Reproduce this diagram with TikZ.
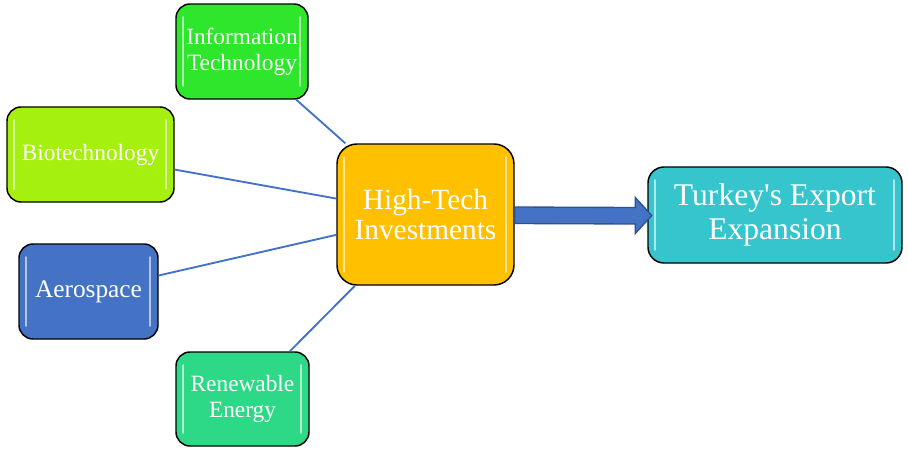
\documentclass[tikz,border=0pt]{standalone}
\usepackage{fontspec}
\setmainfont{Liberation Serif}[Ligatures=TeXOff]
\usetikzlibrary{calc}
\definecolor{cIT}{HTML}{2EE62C}
\definecolor{cBio}{HTML}{A6F010}
\definecolor{cAero}{HTML}{4472C4}
\definecolor{cRen}{HTML}{2DD987}
\definecolor{cHT}{HTML}{FFC000}
\definecolor{cTK}{HTML}{36C5CC}
\definecolor{lnk}{HTML}{4472C4}
\definecolor{arrowEdge}{HTML}{2F528F}
\tikzset{
  box/.style={draw=black, line width=1.1pt, text=white, align=center, inner sep=0pt},
  smallbox/.style={box, rounded corners=10.5pt, font=\fontsize{17.5}{19.5}\selectfont},
  link/.style={draw=lnk, line width=1.4pt},
  hl/.style={white, opacity=0.6, line width=1.8pt, line cap=round},
  bigarrow/.style={fill=cAero, draw=arrowEdge, line width=1pt, line join=miter}
}
\begin{document}
\begin{tikzpicture}[x=0.75pt,y=-0.75pt]
\useasboundingbox (0,0) rectangle (908,454);
\node[smallbox, fill=cIT, minimum width=99pt, minimum height=71.25pt] (it) at (242,51.5) {Information\\Technology};
\node[smallbox, fill=cBio, minimum width=125.25pt, minimum height=71.25pt] (bio) at (90.5,154.5) {Biotechnology};
\node[smallbox, fill=cAero, minimum width=104.25pt, minimum height=71.25pt, font=\fontsize{19}{21}\selectfont] (aero) at (88.5,291.5) {Aerospace};
\node[smallbox, fill=cRen, minimum width=99.75pt, minimum height=70.5pt] (ren) at (242.5,399) {Renewable\\Energy};
\node[box, fill=cHT, rounded corners=15pt, minimum width=132.75pt, minimum height=105.75pt, font=\fontsize{22}{22.5}\selectfont] (ht) at (425.5,214.5) {High-Tech\\Investments};
\node[box, fill=cTK, rounded corners=12pt, minimum width=190.5pt, minimum height=72pt, font=\fontsize{23.7}{25.5}\selectfont] (tk) at (775,215) {Turkey's Export\\Expansion};
\foreach \n in {it,bio,aero,ren,ht,tk}{
  \draw[hl] ($(\n.north west)+(8,14)$) -- ($(\n.south west)+(8,-14)$);
  \draw[hl] ($(\n.north east)+(-9,14)$) -- ($(\n.south east)+(-9,-14)$);
}
\draw[link] (it) -- (ht);
\draw[link] (bio) -- (ht);
\draw[link] (aero) -- (ht);
\draw[link] (ren) -- (ht);
\draw[bigarrow] ($(ht.east)+(0,-7.5)$) -- ($(tk.west)+(-12,-7.5)$) -- ($(tk.west)+(-12,-17.5)$)
  -- ($(tk.west)+(4.5,0.5)$) -- ($(tk.west)+(-12,18.5)$) -- ($(tk.west)+(-12,9)$) -- ($(ht.east)+(0,9)$) -- cycle;
\end{tikzpicture}
\end{document}
